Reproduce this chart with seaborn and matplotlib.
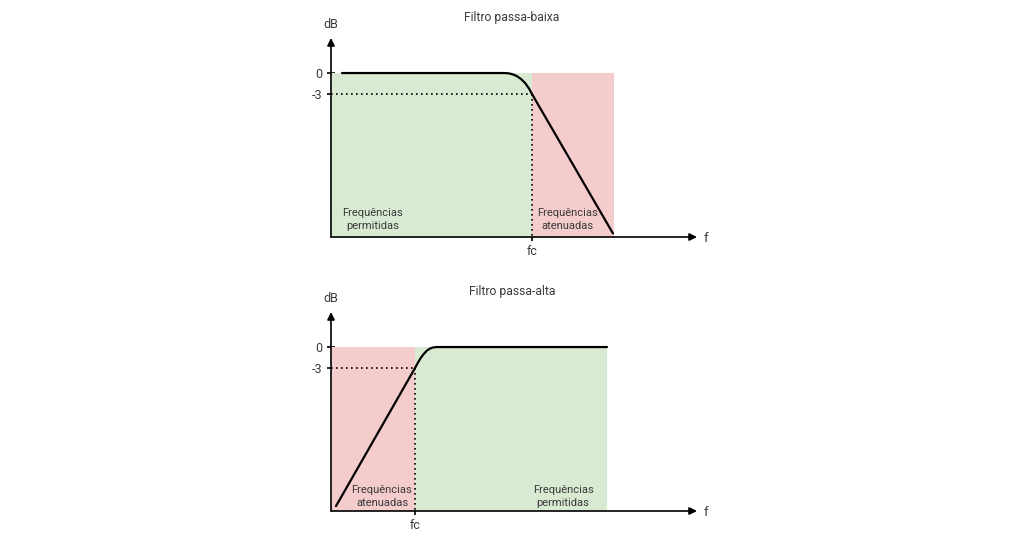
import matplotlib
matplotlib.use("Agg")
import matplotlib.pyplot as plt
import seaborn as sns

# frequency axis in arbitrary units, gain in dB
LP_F = [11, 174, 178, 182, 186, 190, 194, 198, 201, 282]
LP_DB = [0, 0, -0.05, -0.2, -0.45, -0.85, -1.4, -2.2, -3.0, -22.9]
LP_FC = 201
LP_PASS = [0, 201]
LP_STOP = [201, 283]

HP_F = [5, 84, 87, 90, 93, 96, 99, 102, 106, 276]
HP_DB = [-22.7, -3.0, -2.2, -1.5, -0.95, -0.5, -0.22, -0.06, 0, 0]
HP_FC = 84
HP_STOP = [0, 84]
HP_PASS = [84, 276]

Y_TICKS = [0, -3]
Y_TICK_LABELS = ["0", "-3"]
TITLES = ["Filtro passa-baixa", "Filtro passa-alta"]

GREEN = "#d9ead3"
RED = "#f4cccc"
TXT = "#3a3a3a"
YMIN, YMAX = -23.4, 5
XMAX = 366

sns.set_theme(style="white")
plt.rcParams["font.family"] = ["Roboto", "DejaVu Sans"]

fig = plt.figure(figsize=(10.24, 5.38), dpi=100)


def draw_panel(bottom_px, f, db, fc, spans, labels, title):
    ax = fig.add_axes([331 / 1024, 1 - bottom_px / 538, XMAX / 1024, 199 / 538])
    ax.set_xlim(0, XMAX)
    ax.set_ylim(YMIN, YMAX)
    ax.patch.set_alpha(0)
    for s in ax.spines.values():
        s.set_visible(False)

    for (x0, x1), col in spans:
        ax.fill_between([x0, x1], [YMIN, YMIN], [0, 0], color=col, lw=0, zorder=1)

    # dotted -3 dB guides
    ax.plot([0, fc], [-3, -3], color="black", lw=1.2, ls=(0, (1, 2)), zorder=2)
    ax.plot([fc, fc], [-3, YMIN], color="black", lw=1.2, ls=(0, (1, 2)), zorder=2)

    sns.lineplot(x=f, y=db, ax=ax, color="black", lw=1.6, estimator=None, zorder=3)

    # axes with arrowheads
    arrow = dict(arrowstyle="-|>", color="black", lw=1.2, mutation_scale=11,
                 shrinkA=0, shrinkB=0)
    ax.annotate("", xy=(1, 0), xytext=(0, 0), xycoords="axes fraction",
                arrowprops=arrow, annotation_clip=False)
    ax.annotate("", xy=(0, 1), xytext=(0, 0), xycoords="axes fraction",
                arrowprops=arrow, annotation_clip=False)

    ax.set_yticks(Y_TICKS)
    ax.set_yticklabels(Y_TICK_LABELS)
    ax.set_xticks([fc])
    ax.set_xticklabels(["fc"])
    ax.tick_params(axis="both", direction="inout", length=6, width=1.2,
                   color="black", labelsize=9, labelcolor=TXT, pad=3,
                   left=True, bottom=True)

    for x, y, s in labels:
        ax.text(x, y, s, ha="center", va="center", fontsize=8, color=TXT,
                linespacing=1.35, zorder=4)

    fig.text(512 / 1024, 1 - (bottom_px - 220) / 538, title, ha="center",
             va="center", fontsize=8.7, color=TXT)
    fig.text(331 / 1024, 1 - (bottom_px - 213) / 538, "dB", ha="center",
             va="center", fontsize=9, color=TXT)
    fig.text(706 / 1024, 1 - (bottom_px + 1) / 538, "f", ha="center",
             va="center", fontsize=9.5, color=TXT)
    return ax


draw_panel(237, LP_F, LP_DB, LP_FC,
           [(LP_PASS, GREEN), (LP_STOP, RED)],
           [(41.5, -20.9, "Frequências\npermitidas"),
            (236.5, -20.9, "Frequências\natenuadas")],
           TITLES[0])

draw_panel(511, HP_F, HP_DB, HP_FC,
           [(HP_STOP, RED), (HP_PASS, GREEN)],
           [(51, -21.3, "Frequências\natenuadas"),
            (232, -21.3, "Frequências\npermitidas")],
           TITLES[1])

fig.savefig("out.png", dpi=100, facecolor="white")
